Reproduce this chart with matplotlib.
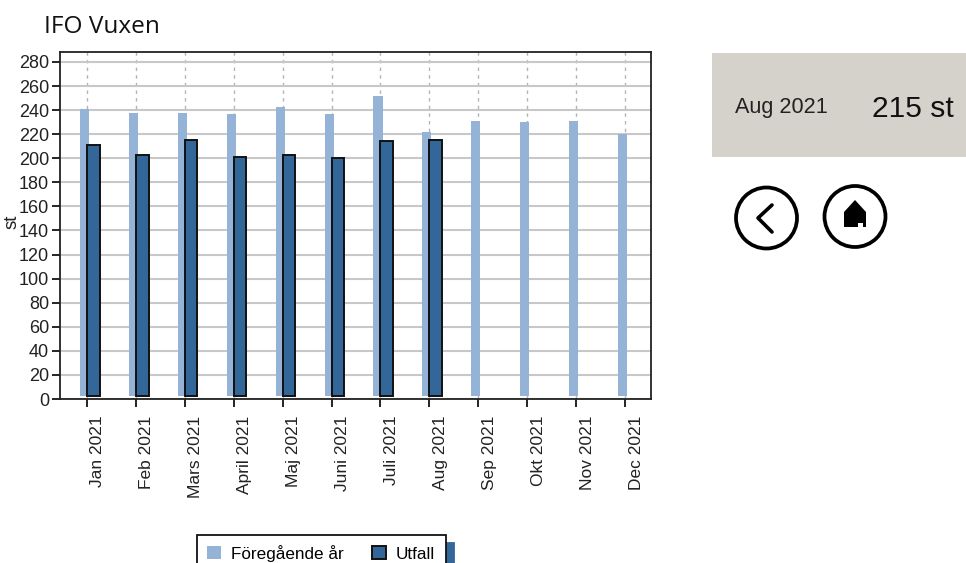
import matplotlib.pyplot as plt
from matplotlib.patches import Circle, Polygon, Rectangle, Patch
from matplotlib.transforms import ScaledTranslation
plt.switch_backend('agg')

months = ['Jan 2021', 'Feb 2021', 'Mars 2021', 'April 2021', 'Maj 2021', 'Juni 2021',
          'Juli 2021', 'Aug 2021', 'Sep 2021', 'Okt 2021', 'Nov 2021', 'Dec 2021']
previous_year = [241, 238, 238, 237, 243, 237, 252, 222, 231, 230, 231, 220]
outcome = [211, 203, 215, 201, 203, 200, 214, 215]
y_ticks = list(range(0, 281, 20))

W, H = 966, 563
LIGHT = '#95b3d7'
DARK = '#336699'

plt.rcParams['font.family'] = ['Liberation Sans', 'DejaVu Sans']

fig = plt.figure(figsize=(W / 100, H / 100), dpi=100)

# axes box in pixels: x 60-651, y 52-399
ax = fig.add_axes([60 / W, 1 - 399 / H, 591 / W, 347 / H])
ax.set_xlim(-0.55, 11.53)
ax.set_ylim(0, 288.3)

x = list(range(len(months)))
bar_base = 2.5  # bars stop just above the axis line in the original
ax.bar([i - 0.05 for i in x], [v - bar_base for v in previous_year], bottom=bar_base,
       width=0.185, color=LIGHT, zorder=3)
ax.bar([i + 0.13 for i in x[:len(outcome)]], [v - bar_base for v in outcome], bottom=bar_base,
       width=0.26, color=DARK, edgecolor='#111111', linewidth=1.4, zorder=4)

ax.set_yticks(y_ticks)
ax.set_xticks(x)
ax.set_xticklabels(months, rotation=90, fontsize=12.5, color='#222222')
ax.tick_params(axis='y', labelsize=13, labelcolor='#222222', length=6, width=1.2, pad=2)
ax.tick_params(axis='x', length=6, width=1.2, pad=6)
# month labels sit to the right of their ticks
shift = ScaledTranslation(11 / 100, 0, fig.dpi_scale_trans)
for label in ax.get_xticklabels():
    label.set_transform(label.get_transform() + shift)
ax.set_axisbelow(True)
ax.grid(axis='y', color='#c8c8c8', linewidth=1.5)
ax.grid(axis='x', color='#b4b4b4', linewidth=1, linestyle=(0, (2.5, 3)))
for side in ax.spines:
    ax.spines[side].set_linewidth(1.3)
    ax.spines[side].set_color('#222222')

ax.set_ylabel('st', fontsize=13.5, color='#222222')
ax.yaxis.set_label_coords(-0.066, 0.51)

handles = [Patch(facecolor=LIGHT, edgecolor='none', label='Föregående år'),
           Patch(facecolor=DARK, edgecolor='#111111', linewidth=1.4, label='Utfall')]
legend = fig.legend(handles=handles, loc='lower left', bbox_to_anchor=(197 / W, -9 / H),
                    ncol=2, fontsize=12.3, frameon=True, fancybox=False, framealpha=1,
                    edgecolor='#111111', shadow={'color': DARK, 'alpha': 1, 'ox': 6, 'oy': -6},
                    handlelength=0.8, handleheight=0.8, columnspacing=1.65, handletextpad=0.6,
                    borderaxespad=0, borderpad=0.6)
legend.get_frame().set_linewidth(1.3)

# overlay in pixel coordinates for title, info panel and buttons
over = fig.add_axes([0, 0, 1, 1], zorder=-1)
over.set_xlim(0, W)
over.set_ylim(H, 0)
over.axis('off')

fig.text(44 / W, 1 - 27 / H, 'IFO Vuxen', family='Open Sans', fontsize=17.6,
         color='#111111', va='center')

over.add_patch(Rectangle((712, 53), 254, 104, facecolor='#d4d2ca', edgecolor='none'))
over.text(735, 107, 'Aug 2021', fontsize=15.6, color='#222222', va='center')
over.text(872, 109, '215 st', fontsize=21.6, color='#111111', va='center')

over.add_patch(Circle((766.5, 218), 30.5, facecolor='white', edgecolor='black', linewidth=2.7))
over.plot([772, 758, 772], [205, 218, 232], color='black', linewidth=2.6, solid_capstyle='round')

over.add_patch(Circle((855, 216.5), 30.5, facecolor='white', edgecolor='black', linewidth=2.7))
over.add_patch(Polygon([(844, 212), (855, 200), (866, 212), (866, 227), (863, 227), (863, 223),
                        (858, 223), (858, 227), (844, 227)], closed=True,
                       facecolor='black', edgecolor='none'))

fig.savefig('out.png', dpi=100)
